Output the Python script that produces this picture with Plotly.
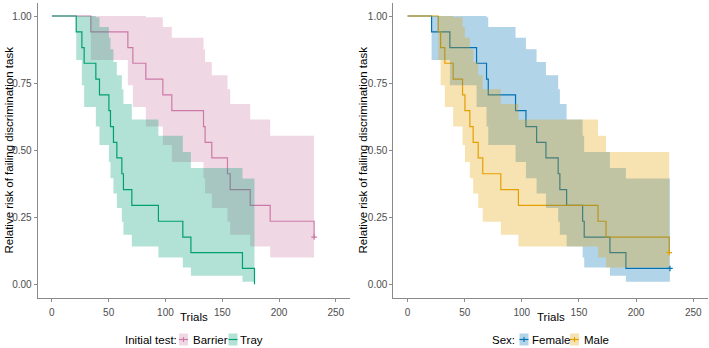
import plotly.graph_objects as go

# ---------------- data ----------------
# Left panel: Initial test
barrier_time  = [0, 34.3, 66.9, 71.3, 82.7, 97.7, 105.6, 133.5, 134.9, 140.8, 154.6, 157.0, 174.6, 192.2, 230.9]
barrier_surv  = [1.0, 0.941, 0.882, 0.824, 0.765, 0.706, 0.647, 0.588, 0.529, 0.471, 0.412, 0.353, 0.294, 0.235, 0.176]
barrier_upper = [1.0, 1.0, 1.0, 1.0, 0.995, 0.959, 0.919, 0.876, 0.829, 0.779, 0.727, 0.672, 0.614, 0.554, 0.493]
barrier_lower = [1.0, 0.836, 0.742, 0.661, 0.588, 0.519, 0.456, 0.395, 0.338, 0.284, 0.233, 0.185, 0.141, 0.100, 0.063]
barrier_end = 230.9
barrier_censor = [230.9]

tray_time  = [0, 21.4, 26.4, 28.4, 38.7, 41.9, 50.2, 51.6, 54.2, 57.2, 61.6, 63.0, 70.4, 93.8, 115.3, 122.4, 167.8, 178.4]
tray_surv  = [1.0, 0.941, 0.882, 0.824, 0.765, 0.706, 0.647, 0.588, 0.529, 0.471, 0.412, 0.353, 0.294, 0.235, 0.176, 0.118, 0.059, 0.0]
tray_upper = [1.0, 1.0, 1.0, 1.0, 0.995, 0.959, 0.919, 0.876, 0.829, 0.779, 0.727, 0.672, 0.614, 0.554, 0.493, 0.433, 0.394, None]
tray_lower = [1.0, 0.836, 0.742, 0.661, 0.588, 0.519, 0.456, 0.395, 0.338, 0.284, 0.233, 0.185, 0.141, 0.100, 0.063, 0.032, 0.009, None]
tray_end = 178.4
tray_censor = []

# Right panel: Sex
female_time  = [0, 21.0, 37.0, 60.4, 69.1, 70.6, 94.5, 103.6, 112.9, 121.1, 131.8, 133.3, 139.2, 153.2, 154.6, 177.1, 191.1]
female_surv  = [1.0, 0.941, 0.882, 0.824, 0.765, 0.706, 0.647, 0.588, 0.529, 0.471, 0.412, 0.353, 0.294, 0.235, 0.176, 0.118, 0.059]
female_upper = [1.0, 1.0, 1.0, 1.0, 0.995, 0.959, 0.919, 0.876, 0.829, 0.779, 0.727, 0.672, 0.614, 0.554, 0.493, 0.433, 0.394]
female_lower = [1.0, 0.836, 0.742, 0.661, 0.588, 0.519, 0.456, 0.395, 0.338, 0.284, 0.233, 0.185, 0.141, 0.100, 0.063, 0.032, 0.009]
female_end = 229.6
female_censor = [229.6]

male_time  = [0, 26.8, 28.9, 32.6, 39.9, 48.1, 50.2, 54.5, 57.4, 61.8, 65.8, 81.6, 97.0, 166.7, 173.7, 229.0]
male_surv  = [1.0, 0.941, 0.882, 0.824, 0.765, 0.706, 0.647, 0.588, 0.529, 0.471, 0.412, 0.353, 0.294, 0.235, 0.176, 0.118]
male_upper = [1.0, 1.0, 1.0, 1.0, 0.995, 0.959, 0.919, 0.876, 0.829, 0.779, 0.727, 0.672, 0.614, 0.554, 0.493, 0.433]
male_lower = [1.0, 0.836, 0.742, 0.661, 0.588, 0.519, 0.456, 0.395, 0.338, 0.284, 0.233, 0.185, 0.141, 0.100, 0.063, 0.032]
male_end = 229.0
male_censor = [229.0]

x_ticks = [0, 50, 100, 150, 200, 250]
y_ticks = [0, 0.25, 0.5, 0.75, 1.0]
y_ticktext = ["0.00", "0.25", "0.50", "0.75", "1.00"]

COL = {
    "Barrier": (204, 121, 167),
    "Tray": (0, 158, 115),
    "Female": (0, 114, 178),
    "Male": (230, 159, 0),
}
ALPHA = 0.3
W, H = 709, 348
FONT = "Liberation Sans, Arial, sans-serif"

def hexc(c):
    return "rgb(%d,%d,%d)" % c

def rgba(c, a=ALPHA):
    return "rgba(%d,%d,%d,%s)" % (c[0], c[1], c[2], a)

def band_poly(times, upper, lower, t_end):
    xs, yu, yl = [], [], []
    for k in range(len(times)):
        if upper[k] is None:
            break
        t0 = times[k]
        t1 = times[k + 1] if k + 1 < len(times) else t_end
        xs += [t0, t1]
        yu += [upper[k], upper[k]]
        yl += [lower[k], lower[k]]
    return xs + xs[::-1], yu + yl[::-1]

fig = go.Figure()

groups = [
    ("Barrier", barrier_time, barrier_surv, barrier_upper, barrier_lower, barrier_end, barrier_censor, "x", "y"),
    ("Tray", tray_time, tray_surv, tray_upper, tray_lower, tray_end, tray_censor, "x", "y"),
    ("Female", female_time, female_surv, female_upper, female_lower, female_end, female_censor, "x2", "y2"),
    ("Male", male_time, male_surv, male_upper, male_lower, male_end, male_censor, "x2", "y2"),
]

# step lines first
for name, t, s, u, l, te, cen, xa, ya in groups:
    fig.add_trace(go.Scatter(
        x=t + [te], y=s + [s[-1]], mode="lines", line=dict(color=hexc(COL[name]), width=1.2, shape="hv"),
        xaxis=xa, yaxis=ya, showlegend=False, hoverinfo="skip"))
# ribbons on top (as in ggsurvplot)
for name, t, s, u, l, te, cen, xa, ya in groups:
    bx, by = band_poly(t, u, l, te)
    fig.add_trace(go.Scatter(
        x=bx, y=by, mode="lines", fill="toself", fillcolor=rgba(COL[name]),
        line=dict(width=0, color="rgba(0,0,0,0)"), xaxis=xa, yaxis=ya, showlegend=False, hoverinfo="skip"))
# censor marks
for name, t, s, u, l, te, cen, xa, ya in groups:
    if cen:
        fig.add_trace(go.Scatter(
            x=cen, y=[s[-1]] * len(cen), mode="markers",
            marker=dict(symbol="cross-thin", size=4, line=dict(color=hexc(COL[name]), width=1.2)),
            xaxis=xa, yaxis=ya, showlegend=False, hoverinfo="skip"))

AX = "#8a8a8a"
TICKC = "#4d4d4d"
xcommon = dict(range=[-12.5, 262.5], tickvals=x_ticks, ticks="outside", ticklen=3, tickcolor=AX,
               showline=True, linecolor=AX, linewidth=1, showgrid=False, zeroline=False, automargin=False,
               ticklabelstandoff=2, tickfont=dict(size=10, color=TICKC, family=FONT))
ycommon = dict(range=[-0.05, 1.05], tickvals=y_ticks, ticktext=y_ticktext, ticks="outside", ticklen=3,
               tickcolor=AX, showline=True, linecolor=AX, linewidth=1, showgrid=False, zeroline=False,
               automargin=False, tickfont=dict(size=10, color=TICKC, family=FONT))

y_dom = [1 - 297.7 / H, 1 - 2.6 / H]
fig.update_layout(
    width=W, height=H, margin=dict(l=0, r=0, t=0, b=0, pad=0),
    paper_bgcolor="white", plot_bgcolor="white",
    font=dict(family=FONT),
    xaxis=dict(domain=[37.7 / W, 350.0 / W], anchor="y", **xcommon),
    yaxis=dict(domain=y_dom, anchor="x", **ycommon),
    xaxis2=dict(domain=[393.3 / W, 707.5 / W], anchor="y2", **xcommon),
    yaxis2=dict(domain=y_dom, anchor="x2", **ycommon),
    showlegend=False,
)

def px(x):
    return x / W

def py(y):
    return 1 - y / H

ann = []
shapes = []
ytitle = "Relative risk of failing discrimination task"
for cx in (8.5, 362.5):
    ann.append(dict(text=ytitle, x=px(cx), y=py(150), xref="paper", yref="paper", textangle=-90,
                    showarrow=False, xanchor="center", yanchor="middle",
                    font=dict(size=11.5, color="black", family=FONT)))
for cx in (194, 550.5):
    ann.append(dict(text="Trials", x=px(cx), y=py(317), xref="paper", yref="paper",
                    showarrow=False, xanchor="center", yanchor="middle",
                    font=dict(size=11.5, color="black", family=FONT)))

LY = 339.5

def legend(title, tx, items):
    ann.append(dict(text=title, x=px(tx), y=py(LY), xref="paper", yref="paper", showarrow=False,
                    xanchor="left", yanchor="middle", font=dict(size=11.5, color="black", family=FONT)))
    for name, kx, lx, cross in items:
        c = COL[name]
        shapes.append(dict(type="rect", xref="paper", yref="paper", x0=px(kx), x1=px(kx + 9),
                           y0=py(LY + 6), y1=py(LY - 6), fillcolor=rgba(c), line=dict(width=0)))
        shapes.append(dict(type="line", xref="paper", yref="paper", x0=px(kx), x1=px(kx + 9),
                           y0=py(LY), y1=py(LY), line=dict(color=hexc(c), width=1.2)))
        if cross:
            shapes.append(dict(type="line", xref="paper", yref="paper", x0=px(kx + 4.5), x1=px(kx + 4.5),
                               y0=py(LY - 2.5), y1=py(LY + 2.5), line=dict(color=hexc(c), width=1.1)))
        ann.append(dict(text=name, x=px(lx), y=py(LY), xref="paper", yref="paper", showarrow=False,
                        xanchor="left", yanchor="middle", font=dict(size=11.5, color="black", family=FONT)))

legend("Initial test:", 123.0, [("Barrier", 179.0, 190.5, True), ("Tray", 228.5, 238.5, False)])
legend("Sex:", 489.5, [("Female", 519.5, 530.0, True), ("Male", 570.0, 582.0, True)])

fig.update_layout(annotations=ann, shapes=shapes)
fig.write_html("out.html")
